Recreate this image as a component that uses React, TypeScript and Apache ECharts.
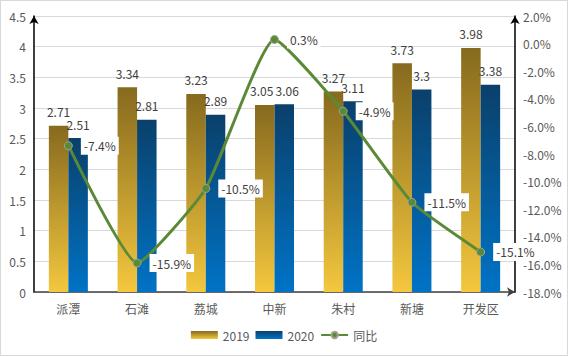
import React, { useEffect, useRef } from "react";
import * as echarts from "echarts";

const categories = ["派潭", "石滩", "荔城", "中新", "朱村", "新塘", "开发区"];
const values2019 = [2.71, 3.34, 3.23, 3.05, 3.27, 3.73, 3.98];
const values2020 = [2.51, 2.81, 2.89, 3.06, 3.11, 3.3, 3.38];
const yoyPercent = [-7.4, -15.9, -10.5, 0.3, -4.9, -11.5, -15.1];

const FONT = '"Microsoft YaHei", "Noto Sans CJK SC", "Noto Sans", sans-serif';

export default function App() {
  const ref = useRef<HTMLDivElement>(null);
  useEffect(() => {
    if (!ref.current) return;
    const chart = echarts.init(ref.current, null, { renderer: "svg" });
    const gold = new echarts.graphic.LinearGradient(0, 0, 0, 1, [
      { offset: 0, color: "#866A1E" },
      { offset: 1, color: "#F4C73E" },
    ]);
    const blue = new echarts.graphic.LinearGradient(0, 0, 0, 1, [
      { offset: 0, color: "#0A406B" },
      { offset: 1, color: "#0073C6" },
    ]);
    const barLabel = {
      show: true,
      position: "top",
      distance: 8,
      color: "#404040",
      fontSize: 12,
      fontFamily: FONT,
    };
    // nudge the two touching labels of the middle category apart slightly
    const data2019 = values2019.map((v, i) =>
      i === 3 ? { value: v, label: { offset: [-3, 0] } } : v
    );
    const data2020 = values2020.map((v, i) =>
      i === 3 ? { value: v, label: { offset: [3, 0] } } : v
    );
    chart.setOption({
      animation: false,
      textStyle: { fontFamily: FONT },
      grid: { left: 33, right: 52, top: 15, bottom: 63 },
      legend: {
        bottom: 9,
        left: "center",
        itemWidth: 27,
        itemHeight: 8,
        itemGap: 6,
        textStyle: { color: "#595959", fontSize: 12, fontFamily: FONT },
        data: [
          { name: "2019", icon: "rect" },
          { name: "2020", icon: "rect" },
          { name: "同比" },
        ],
      },
      xAxis: {
        type: "category",
        data: categories,
        axisTick: { show: false },
        axisLine: {
          lineStyle: { color: "#404040", width: 1.5 },
          symbol: ["none", "arrow"],
          symbolSize: [7, 8],
        },
        axisLabel: { color: "#595959", fontSize: 12, margin: 10, fontFamily: FONT },
      },
      yAxis: [
        {
          type: "value",
          min: 0,
          max: 4.5,
          interval: 0.5,
          axisLine: {
            show: true,
            lineStyle: { color: "#000000", width: 1.5 },
            symbol: ["none", "arrow"],
            symbolSize: [7, 8],
          },
          axisTick: { show: false },
          axisLabel: { color: "#595959", fontSize: 12, margin: 8, fontFamily: FONT },
          splitLine: { lineStyle: { color: "#D9D9D9", width: 1 } },
        },
        {
          type: "value",
          min: -18,
          max: 2,
          interval: 2,
          axisLine: {
            show: true,
            lineStyle: { color: "#000000", width: 1.5 },
            symbol: ["none", "arrow"],
            symbolSize: [7, 8],
          },
          axisTick: { show: false },
          axisLabel: {
            color: "#595959",
            fontSize: 12,
            margin: 8,
            fontFamily: FONT,
            formatter: (v: number) => v.toFixed(1) + "%",
          },
          splitLine: { show: false },
        },
      ],
      series: [
        {
          name: "2019",
          type: "bar",
          data: data2019,
          barWidth: 19.5,
          barGap: "0%",
          itemStyle: { color: gold },
          label: barLabel,
        },
        {
          name: "2020",
          type: "bar",
          data: data2020,
          barWidth: 19.5,
          barGap: "0%",
          itemStyle: { color: blue },
          label: barLabel,
        },
        {
          name: "同比",
          type: "line",
          yAxisIndex: 1,
          data: yoyPercent,
          smooth: 0.15,
          symbol: "circle",
          symbolSize: 8,
          lineStyle: { color: "#5B8A37", width: 3 },
          itemStyle: { color: "#5B8A37", borderColor: "#9DA594", borderWidth: 1 },
          label: {
            show: true,
            position: "right",
            distance: 8,
            color: "#404040",
            fontSize: 12,
            fontFamily: FONT,
            backgroundColor: "#FFFFFF",
            padding: [3, 3],
            formatter: (p: any) => p.value + "%",
          },
        },
      ],
    });
    return () => chart.dispose();
  }, []);
  return (
    <div
      style={{
        position: "fixed",
        left: 0,
        top: 0,
        width: 568,
        height: 356,
        boxSizing: "border-box",
        border: "1px solid #D9D9D9",
        background: "#FFFFFF",
      }}
    >
      <div ref={ref} style={{ width: 566, height: 354 }} />
    </div>
  );
}
